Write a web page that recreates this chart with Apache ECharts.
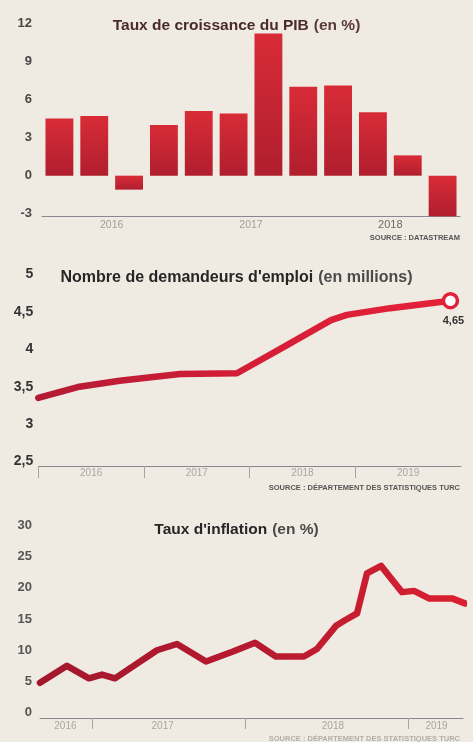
<!DOCTYPE html>
<html>
<head>
<meta charset="utf-8">
<script src="https://cdn.jsdelivr.net/npm/echarts@6/dist/echarts.min.js"></script>
<style>
html,body{margin:0;padding:0;background:#efebe3;}
#c{width:473px;height:742px;}
</style>
</head>
<body>
<div id="c"></div>
<script>
// ---- Data: PIB (quarterly growth, %)
const quarters = ['T1 2016','T2 2016','T3 2016','T4 2016','T1 2017','T2 2017','T3 2017','T4 2017','T1 2018','T2 2018','T3 2018','T4 2018'];
const pibValues = [4.5, 4.7, -1.1, 4.0, 5.1, 4.9, 11.2, 7.0, 7.1, 5.0, 1.6, -3.2];
const pibYears = ['2016', '2017', '2018'];
const pibYearPos = [2, 6, 10];
const pibTicks = [-3, 0, 3, 6, 9, 12];

// ---- Data: demandeurs d'emploi (millions), x in years since Jan 2016
const chomTime = [0, 0.39, 0.77, 1.34, 1.88, 2.32, 2.77, 2.92, 3.33, 3.9];
const chomValues = [3.35, 3.50, 3.58, 3.67, 3.68, 4.03, 4.39, 4.46, 4.55, 4.65];
const chomYears = ['2016', '2017', '2018', '2019'];
const chomYearPos = [0.5, 1.5, 2.5, 3.5];
const chomTickPos = [0, 1, 2, 3];
const chomTicks = [2.5, 3, 3.5, 4, 4.5, 5];

// ---- Data: inflation (%), x in months since Jan 2016
const inflMonths = [0, 2.55, 4.63, 5.86, 7.09, 11.06, 12.95, 15.7, 18.25, 20.33, 22.3, 24.96, 26.19, 27.99, 28.84, 29.98, 30.92, 32.25, 34.23, 35.37, 36.78, 38.96, 40.19];
const inflValues = [4.8, 7.5, 5.5, 6.1, 5.5, 10.0, 11.0, 8.2, 9.8, 11.2, 9.0, 9.0, 10.2, 13.9, 14.8, 15.9, 22.3, 23.5, 19.3, 19.5, 18.3, 18.3, 17.5];
const inflYears = ['2016', '2017', '2018', '2019'];
const inflYearPos = [2.4, 11.6, 27.7, 37.5];
const inflTickPos = [4.9, 19.4, 34.8];
const inflTicks = [0, 5, 10, 15, 20, 25, 30];

const FONT = "'Liberation Sans', Arial, sans-serif";
function lookup(pos, names) {
  return function (v) {
    for (let i = 0; i < pos.length; i++) if (Math.abs(pos[i] - v) < 1e-6) return names[i];
    return '';
  };
}
const axisGray = '#8a8690';

const chart = echarts.init(document.getElementById('c'), null, {renderer: 'canvas'});
const option = {
  backgroundColor: '#efebe3',
  animation: false,
  textStyle: {fontFamily: FONT},
  title: [
    {
      left: 'center', top: 12,
      text: '{b|Taux de croissance du PIB} {n|(en %)}',
      textStyle: {rich: {
        b: {fontFamily: FONT, fontWeight: 'bold', fontSize: 15.5, color: '#4a2a2c', lineHeight: 18},
        n: {fontFamily: FONT, fontSize: 15.5, color: '#5a3a3c', lineHeight: 18}
      }}
    },
    {
      left: 'center', top: 264,
      text: "{b|Nombre de demandeurs d'emploi} {n|(en millions)}",
      textStyle: {rich: {
        b: {fontFamily: FONT, fontWeight: 'bold', fontSize: 16, color: '#262626', lineHeight: 18},
        n: {fontFamily: FONT, fontSize: 16, color: '#4a4a4a', lineHeight: 18}
      }}
    },
    {
      left: 'center', top: 516,
      text: "{b|Taux d'inflation} {n|(en %)}",
      textStyle: {rich: {
        b: {fontFamily: FONT, fontWeight: 'bold', fontSize: 15.5, color: '#262626', lineHeight: 18},
        n: {fontFamily: FONT, fontSize: 15.5, color: '#4a4a4a', lineHeight: 18}
      }}
    }
  ],
  grid: [
    {left: 42, right: 13, top: 23.3, height: 193, containLabel: false},
    {left: 38.3, right: 12, top: 274.5, height: 191.5, containLabel: false},
    {left: 40, right: 10, top: 525.3, height: 192.7, containLabel: false}
  ],
  xAxis: [
    {
      type: 'category', gridIndex: 0, data: quarters, position: 'bottom',
      axisLine: {show: true, onZero: false, lineStyle: {color: axisGray, width: 1}},
      axisTick: {show: false}, axisLabel: {show: false}, splitLine: {show: false}
    },
    {
      type: 'value', gridIndex: 0, min: 0, max: 12, position: 'bottom',
      axisLine: {show: false, onZero: false}, axisTick: {show: false}, splitLine: {show: false},
      axisLabel: {
        customValues: pibYearPos, margin: 3, fontSize: 10.5, color: '#a39d98',
        formatter: function (v) {
          const t = lookup(pibYearPos, pibYears)(v);
          return t === '2018' ? '{d|' + t + '}' : t;
        },
        rich: {d: {fontSize: 11, color: '#6e6a68', fontFamily: FONT}}
      }
    },
    {
      type: 'value', gridIndex: 1, min: 0, max: 4, position: 'bottom',
      axisLine: {show: true, onZero: false, lineStyle: {color: axisGray, width: 1}},
      axisTick: {show: true, customValues: chomTickPos, length: 12, lineStyle: {color: '#a8a4a4'}},
      splitLine: {show: false},
      axisLabel: {customValues: chomYearPos, margin: 2, fontSize: 10, color: '#aaa5a0',
        formatter: lookup(chomYearPos, chomYears)}
    },
    {
      type: 'value', gridIndex: 2, min: 0, max: 40, position: 'bottom',
      axisLine: {show: true, onZero: false, lineStyle: {color: axisGray, width: 1}},
      axisTick: {show: true, customValues: inflTickPos, length: 11, lineStyle: {color: '#a8a4a4'}},
      splitLine: {show: false},
      axisLabel: {customValues: inflYearPos, margin: 3, fontSize: 10, color: '#aaa5a0',
        formatter: lookup(inflYearPos, inflYears)}
    }
  ],
  yAxis: [
    {
      type: 'value', gridIndex: 0, min: -3.2, max: 12,
      axisLine: {show: false}, axisTick: {show: false}, splitLine: {show: false},
      axisLabel: {customValues: pibTicks, margin: 10, fontSize: 13, fontWeight: 'bold', color: '#4d4545'}
    },
    {
      type: 'value', gridIndex: 1, min: 2.44, max: 5,
      axisLine: {show: false}, axisTick: {show: false}, splitLine: {show: false},
      axisLabel: {customValues: chomTicks, margin: 5, fontSize: 14, fontWeight: 'bold', color: '#333',
        formatter: function (v) { return String(v).replace('.', ','); }}
    },
    {
      type: 'value', gridIndex: 2, min: -0.85, max: 30,
      axisLine: {show: false}, axisTick: {show: false}, splitLine: {show: false},
      axisLabel: {customValues: inflTicks, margin: 8, fontSize: 13, fontWeight: 'bold', color: '#555'}
    }
  ],
  series: [
    {
      type: 'bar', xAxisIndex: 0, yAxisIndex: 0, data: pibValues, barWidth: '80%',
      itemStyle: {color: new echarts.graphic.LinearGradient(0, 0, 0, 1, [
        {offset: 0, color: '#d82c37'}, {offset: 1, color: '#b01e2e'}])}
    },
    {
      type: 'line', xAxisIndex: 2, yAxisIndex: 1, clip: false,
      data: chomTime.map(function (t, i) { return [t, chomValues[i]]; }),
      lineStyle: {width: 6.5, cap: 'round', join: 'round',
        color: new echarts.graphic.LinearGradient(0, 0, 1, 0, [
          {offset: 0, color: '#b31b34'}, {offset: 0.5, color: '#d41e36'}, {offset: 1, color: '#e4223a'}])},
      symbol: 'none',
      markPoint: {
        symbol: 'circle', symbolSize: 14,
        itemStyle: {color: '#ffffff', borderColor: '#e2203a', borderWidth: 3.5},
        label: {show: true, position: 'bottom', distance: 6, offset: [3, 0], fontSize: 11, fontWeight: 'bold', color: '#333',
          formatter: function (p) { return String(p.value).replace('.', ','); }},
        data: [{coord: [chomTime[chomTime.length - 1], chomValues[chomValues.length - 1]], value: chomValues[chomValues.length - 1]}]
      }
    },
    {
      type: 'line', xAxisIndex: 3, yAxisIndex: 2, clip: false,
      data: inflMonths.map(function (m, i) { return [m, inflValues[i]]; }),
      lineStyle: {width: 6.5, cap: 'round', join: 'round',
        color: new echarts.graphic.LinearGradient(0, 0, 1, 0, [
          {offset: 0, color: '#a3172d'}, {offset: 0.55, color: '#b81a30'}, {offset: 1, color: '#dc2030'}])},
      symbol: 'none'
    }
  ],
  graphic: [
    {type: 'text', right: 13, top: 234, style: {text: 'SOURCE : DATASTREAM', font: 'bold 7.5px ' + FONT, fill: '#555'}},
    {type: 'text', right: 13, top: 484, style: {text: 'SOURCE : DÉPARTEMENT DES STATISTIQUES TURC', font: 'bold 7.5px ' + FONT, fill: '#555'}},
    {type: 'text', right: 13, top: 735, style: {text: 'SOURCE : DÉPARTEMENT DES STATISTIQUES TURC', font: 'bold 7.5px ' + FONT, fill: '#b3ada8'}}
  ]
};
chart.setOption(option);
</script>
</body>
</html>
